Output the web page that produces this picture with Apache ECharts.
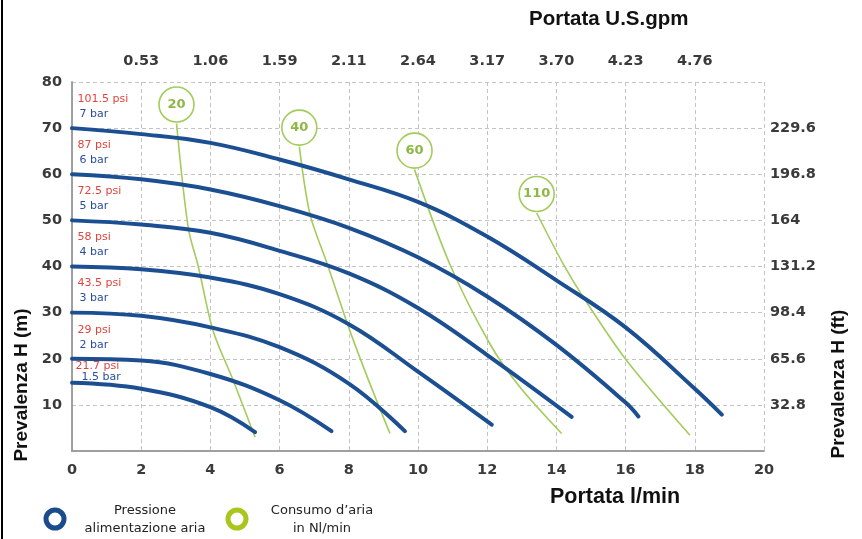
<!DOCTYPE html>
<html><head><meta charset="utf-8">
<script src="https://cdn.jsdelivr.net/npm/echarts@6/dist/echarts.min.js"></script>
<style>html,body{margin:0;padding:0;background:#fff;}#c{width:862px;height:539px;}</style>
</head><body><div id="c"></div>
<script>
// ---- data (flow l/min, head m) ----
const bar7 = [[0,70],[2,68.7],[4,66.8],[6,63.2],[8,58.9],[10,54],[12,46.5],[14,37],[16,26.8],[18,13.5],[18.78,7.9]];
const bar6 = [[0,60],[2,58.9],[4,56.7],[6,53.1],[8,48.4],[10,42],[12,33.5],[14,23],[16,10.5],[16.37,7.5]];
const bar5 = [[0,50],[2,49.1],[4,47.3],[6,43.4],[8,38.5],[10,31],[12,20.8],[14.44,7.4]];
const bar4 = [[0,40],[2,39.4],[4,37.6],[6,34],[8,27.5],[10,17.2],[12.13,5.7]];
const bar3 = [[0,30],[2,29.3],[4,26.8],[6,22.5],[8,14.6],[9.62,4.3]];
const bar2 = [[0,20],[2,19.6],[4,16.7],[6,11],[7.5,4.3]];
const bar15 = [[0,14.8],[2,13.5],[4,9.5],[5.29,4.1]];
const pressureCurves = [bar7, bar6, bar5, bar4, bar3, bar2, bar15];
const psiLabels = ['101.5 psi','87 psi','72.5 psi','58 psi','43.5 psi','29 psi','21.7 psi'];
const barLabels = ['7 bar','6 bar','5 bar','4 bar','3 bar','2 bar','1.5 bar'];

const air20 = [[3.02,71],[3.36,48.4],[3.65,40],[4.08,26],[4.66,15.3],[5.29,3]];
const air40 = [[6.57,66],[6.88,51.3],[7.38,40.5],[8.03,26.1],[8.61,14.6],[9.19,3.8]];
const air60 = [[9.9,61],[10.92,40.5],[12.08,23.2],[12.95,13.8],[14.15,3.8]];
const air110 = [[13.43,51.6],[14.2,40.5],[14.78,33.3],[16.03,19.6],[17.86,3.4]];
const airCurves = [air20, air40, air60, air110];
const airLabels = ['20','40','60','110'];

const xTicks = [0,2,4,6,8,10,12,14,16,18,20];
const gpmLabels = ['0.53','1.06','1.59','2.11','2.64','3.17','3.70','4.23','4.76'];
const ftLabels = ['32.8','65.6','98.4','131.2','164','196.8','229.6'];

// ---- styles ----
const BLUE = '#1c4f92';
const GREEN = '#a3cc5c';
const GREEN_TXT = '#8cb944';
const RED = '#e2443c';
const LBL = {fontFamily:'DejaVu Sans', fontWeight:'bold', fontSize:14.5, color:'#3a3a3a'};
const frame = {show:true, lineStyle:{color:'#9a9a9a', width:1.5}};
const split = {show:true, lineStyle:{color:'#c4c4c4', type:[4,3], width:1}};
const TITLE_FONT = '"Liberation Sans Narrow", "Liberation Sans", Arial';

const series = [];
pressureCurves.forEach((d, i) => {
  const small = i === pressureCurves.length - 1;
  series.push({
    type:'line', data:d, smooth:0.4, symbol:'none', z:3,
    lineStyle:{color:BLUE, width:4, cap:'round'},
    markPoint:{
      symbol:'circle', symbolSize:1, itemStyle:{color:'rgba(0,0,0,0)'},
      data:[{coord:d[0]}],
      label:{show:true, position:[small?4:6, small?-22:-36], align:'left', verticalAlign:'top',
        formatter:'{p|' + psiLabels[i] + '}\n{b|' + barLabels[i] + '}',
        rich:{p:{color:RED, fontSize:11, fontFamily:'DejaVu Sans', lineHeight: small?11:15},
              b:{color:'#2b4e9a', fontSize:11, fontFamily:'DejaVu Sans', lineHeight: small?11:15, padding:[0,0,0, small?6:2]}}}
    }
  });
});
airCurves.forEach((d, i) => {
  series.push({
    type:'line', data:d, smooth:0.3, symbol:'none', z:2,
    lineStyle:{color:GREEN, width:1.6},
    markPoint:{
      symbol:'circle', symbolSize:35, symbolOffset:[0,-19],
      itemStyle:{color:'#fff', borderColor:GREEN, borderWidth:1.6},
      data:[{coord:d[0]}],
      label:{show:true, position:'inside', formatter:airLabels[i], color:GREEN_TXT, fontWeight:'bold', fontSize:13, fontFamily:'DejaVu Sans'}
    }
  });
});

const chart = echarts.init(document.getElementById('c'), null, {renderer:'canvas'});
chart.setOption({
  animation:false,
  backgroundColor:'#fff',
  grid:{left:72, right:98, top:82, bottom:88, containLabel:false},
  xAxis:[
    {type:'value', position:'bottom', min:0, max:20, interval:2,
     axisLine:frame, axisTick:{show:false}, splitLine:split,
     axisLabel:Object.assign({margin:12}, LBL)},
    {type:'value', position:'top', min:0, max:20, interval:2,
     axisLine:frame, axisTick:{show:false}, splitLine:{show:false},
     axisLabel:Object.assign({margin:13, formatter:v => (v>0 && v<20) ? gpmLabels[xTicks.indexOf(v)-1] : ''}, LBL)}
  ],
  yAxis:[
    {type:'value', position:'left', min:0, max:80, interval:10,
     axisLine:frame, axisTick:{show:false}, splitLine:split,
     axisLabel:Object.assign({margin:10, formatter:v => v===0 ? '' : String(v)}, LBL)},
    {type:'value', position:'right', min:0, max:80, interval:10,
     axisLine:frame, axisTick:{show:false}, splitLine:{show:false},
     axisLabel:Object.assign({margin:6, align:'left', formatter:v => (v>0 && v<80) ? ftLabels[v/10-1] : ''}, LBL)}
  ],
  series:series,
  graphic:[
    {type:'line', shape:{x1:2, y1:0, x2:2, y2:539}, style:{stroke:'#000', lineWidth:2}},
    {type:'text', left:529, top:9, style:{text:'Portata U.S.gpm', font:'bold 20.5px ' + TITLE_FONT, fill:'#111'}},
    {type:'text', left:550, top:486, style:{text:'Portata l/min', font:'bold 21.5px ' + TITLE_FONT, fill:'#111'}},
    {type:'text', x:22, y:385, rotation:Math.PI/2, style:{text:'Prevalenza H (m)', font:'bold 19px ' + TITLE_FONT, fill:'#111', align:'center', verticalAlign:'middle'}},
    {type:'text', x:839, y:384, rotation:Math.PI/2, style:{text:'Prevalenza H (ft)', font:'bold 19px ' + TITLE_FONT, fill:'#111', align:'center', verticalAlign:'middle'}},
    {type:'circle', shape:{cx:55, cy:519, r:9}, style:{fill:'none', stroke:'#1a4c8c', lineWidth:5}},
    {type:'text', x:145, y:511, style:{text:'Pressione', font:'13px "DejaVu Sans"', fill:'#222', align:'center', verticalAlign:'middle'}},
    {type:'text', x:145, y:529, style:{text:'alimentazione aria', font:'13px "DejaVu Sans"', fill:'#222', align:'center', verticalAlign:'middle'}},
    {type:'circle', shape:{cx:237, cy:519, r:9}, style:{fill:'none', stroke:'#aac51e', lineWidth:5}},
    {type:'text', x:322, y:511, style:{text:'Consumo d\u2019aria', font:'13px "DejaVu Sans"', fill:'#222', align:'center', verticalAlign:'middle'}},
    {type:'text', x:322, y:529, style:{text:'in Nl/min', font:'13px "DejaVu Sans"', fill:'#222', align:'center', verticalAlign:'middle'}}
  ]
});
</script></body></html>
